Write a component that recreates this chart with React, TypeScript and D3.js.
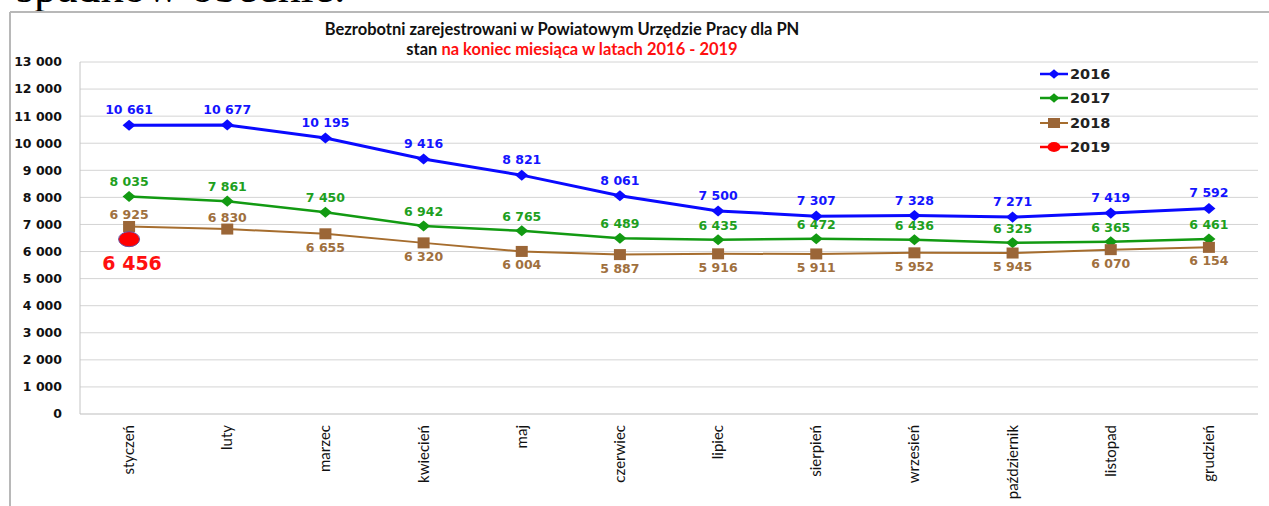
import React from "react";
import * as d3 from "d3";

// dane
const months = [
  "styczeń", "luty", "marzec", "kwiecień", "maj", "czerwiec",
  "lipiec", "sierpień", "wrzesień", "październik", "listopad", "grudzień",
];
const y2016 = [10661, 10677, 10195, 9416, 8821, 8061, 7500, 7307, 7328, 7271, 7419, 7592];
const y2017 = [8035, 7861, 7450, 6942, 6765, 6489, 6435, 6472, 6436, 6325, 6365, 6461];
const y2018 = [6925, 6830, 6655, 6320, 6004, 5887, 5916, 5911, 5952, 5945, 6070, 6154];
const y2019 = [6456];
const yTicks = [0, 1000, 2000, 3000, 4000, 5000, 6000, 7000, 8000, 9000, 10000, 11000, 12000, 13000];
// etykiety 2018 nad punktem tylko dla pierwszych dwóch miesięcy
const above2018 = [true, true, false, false, false, false, false, false, false, false, false, false];

const W = 1269;
const H = 506;
const margin = { left: 80, right: 11, top: 62, bottom: 92 };

const fmt = (v: number) => {
  const s = String(v);
  return s.length > 3 ? s.slice(0, s.length - 3) + " " + s.slice(-3) : s;
};

const labelFont = "'DejaVu Sans', Verdana, sans-serif";

const App = () => {
  const x = d3
    .scaleBand()
    .domain(months)
    .range([margin.left, W - margin.right]);
  const y = d3
    .scaleLinear()
    .domain([0, 13000])
    .range([H - margin.bottom, margin.top]);
  const cx = (m: string) => (x(m) as number) + x.bandwidth() / 2;

  const line = d3
    .line<number>()
    .x((d, i) => cx(months[i]))
    .y((d) => y(d));

  const diamond = (px: number, py: number, r: number) =>
    `M${px},${py - r * 0.85}L${px + r},${py}L${px},${py + r * 0.85}L${px - r},${py}Z`;

  const series = [
    { name: "2016", data: y2016, color: "#0a0aff", width: 3, mark: "diamond", labelColor: "#1414ff" },
    { name: "2017", data: y2017, color: "#129a12", width: 2.5, mark: "diamond", labelColor: "#1ea01e" },
    { name: "2018", data: y2018, color: "#a66d2e", width: 2, mark: "square", labelColor: "#a0703e" },
  ];

  const legendY = [74, 98, 123, 147];

  return (
    <svg
      width={W}
      height={H}
      style={{ position: "absolute", left: 0, top: 0, background: "#fff" }}
    >
      {/* ucięty tekst dokumentu u góry */}
      <text x={16} y={1.5} fontFamily="'Liberation Serif', 'Times New Roman', serif" fontSize={46}>
        spadków obecnie.
      </text>

      {/* ramka wykresu */}
      <line x1={10} y1={12} x2={W} y2={12} stroke="#b8b8b8" strokeWidth={2} />
      <line x1={10} y1={12} x2={10} y2={H} stroke="#b8b8b8" strokeWidth={2} />

      {/* tytuł */}
      <text x={562} y={35} textAnchor="middle" fontFamily="Lato, sans-serif" fontWeight={700} fontSize={16.5} fill="#111">
        Bezrobotni zarejestrowani w Powiatowym Urzędzie Pracy dla PN
      </text>
      <text x={572} y={55} textAnchor="middle" fontFamily="Lato, sans-serif" fontWeight={700} fontSize={16.5} fill="#111">
        stan <tspan fill="#ff1010">na koniec miesiąca w latach 2016 - 2019</tspan>
      </text>

      {/* siatka */}
      {yTicks.map((t) => (
        <g key={t}>
          <line
            x1={margin.left}
            x2={W - margin.right}
            y1={y(t)}
            y2={y(t)}
            stroke={t === 0 ? "#bdbdbd" : "#d4d4d4"}
            strokeWidth={1}
          />
          <text
            x={62}
            y={y(t)}
            dy="0.35em"
            textAnchor="end"
            fontFamily={labelFont}
            fontWeight={700}
            fontSize={12.5}
            fill="#111"
          >
            {fmt(t)}
          </text>
        </g>
      ))}
      <line x1={margin.left} x2={margin.left} y1={margin.top} y2={H - margin.bottom} stroke="#c4c4c4" />

      {/* etykiety miesięcy */}
      {months.map((m) => (
        <text
          key={m}
          transform={`translate(${cx(m) + 5},${H - margin.bottom + 11}) rotate(-90)`}
          textAnchor="end"
          fontFamily="Lato, sans-serif"
          fontSize={15}
          fill="#111"
        >
          {m}
        </text>
      ))}

      {/* linie */}
      {series
        .slice()
        .reverse()
        .map((s) => (
          <path key={s.name} d={line(s.data) as string} fill="none" stroke={s.color} strokeWidth={s.width} />
        ))}

      {/* znaczniki i etykiety */}
      {series.map((s) => (
        <g key={s.name + "m"}>
          {s.data.map((v, i) => {
            const px = cx(months[i]);
            const py = y(v);
            let ly = py - 10;
            if (s.name === "2016") ly = py - 11;
            if (s.name === "2018") ly = above2018[i] ? py - 7 : py + 18;
            return (
              <g key={i}>
                {s.mark === "diamond" ? (
                  <path d={diamond(px, py, 6.5)} fill={s.color} />
                ) : (
                  <rect x={px - 6} y={py - 5.5} width={12} height={11} fill="#9b6637" />
                )}
                <text
                  x={px}
                  y={ly}
                  textAnchor="middle"
                  fontFamily={labelFont}
                  fontWeight={700}
                  fontSize={12.5}
                  fill={s.labelColor}
                >
                  {fmt(v)}
                </text>
              </g>
            );
          })}
        </g>
      ))}

      {/* 2019 */}
      {y2019.map((v, i) => (
        <g key={"r" + i}>
          <ellipse cx={cx(months[i])} cy={y(v)} rx={10.5} ry={7.5} fill="#ff0000" stroke="#6a4fa0" strokeWidth={1} />
          <text
            x={cx(months[i]) + 3}
            y={y(v) + 31}
            textAnchor="middle"
            fontFamily={labelFont}
            fontWeight={700}
            fontSize={19}
            fill="#ff1010"
          >
            {fmt(v)}
          </text>
        </g>
      ))}

      {/* legenda */}
      {["2016", "2017", "2018", "2019"].map((n, i) => {
        const ly = legendY[i];
        const col = i < 3 ? series[i].color : "#ff0000";
        return (
          <g key={n}>
            <line x1={1040} x2={1068} y1={ly} y2={ly} stroke={col} strokeWidth={i === 2 ? 2 : 2.5} />
            {i < 2 && <path d={diamond(1054, ly, 5.5)} fill={col} />}
            {i === 2 && <rect x={1048} y={ly - 5} width={12} height={10} fill="#9b6637" />}
            {i === 3 && <ellipse cx={1054} cy={ly} rx={6.5} ry={5} fill="#ff0000" />}
            <text x={1070} y={ly} dy="0.37em" fontFamily={labelFont} fontWeight={700} fontSize={14.5} fill="#222">
              {n}
            </text>
          </g>
        );
      })}
    </svg>
  );
};

export default App;
